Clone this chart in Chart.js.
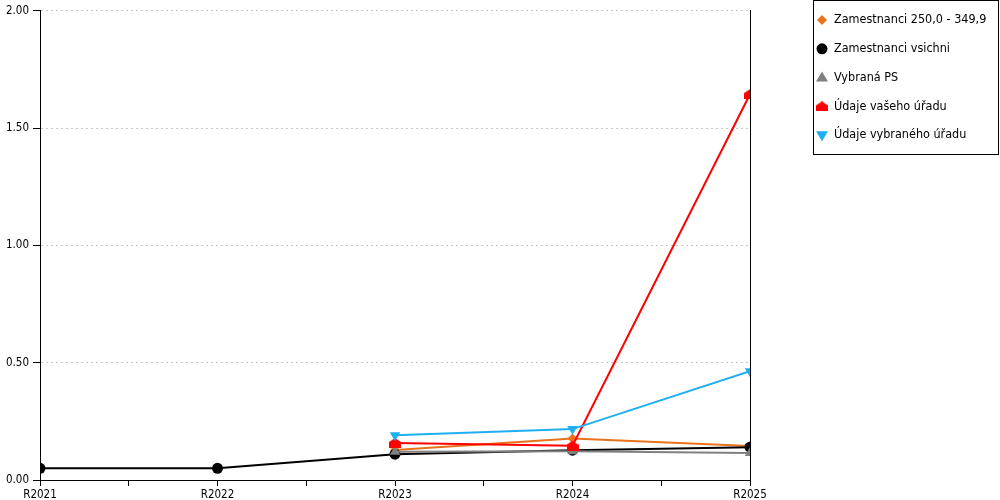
<!DOCTYPE html>
<html>
<head>
<meta charset="utf-8">
<script src="https://cdn.jsdelivr.net/npm/chart.js@4/dist/chart.umd.min.js"></script>
<style>
  html, body { margin: 0; padding: 0; background: #fff; }
  #wrap { position: relative; width: 1000px; height: 500px; }
</style>
</head>
<body>
<div id="wrap"><canvas id="c" width="1000" height="500"></canvas></div>
<script>
const categories = ['R2021', 'R2022', 'R2023', 'R2024', 'R2025'];
const yTicks = [0, 0.5, 1.0, 1.5, 2.0];
const seriesNames = ['Zamestnanci 250,0 - 349,9', 'Zamestnanci vsichni', 'Vybraná PS', 'Údaje vašeho úřadu', 'Údaje vybraného úřadu'];
const zam250 = [null, null, 0.128, 0.177, 0.145];
const zamVsichni = [0.05, 0.05, 0.11, 0.127, 0.14];
const vybranaPS = [null, null, 0.12, 0.123, 0.115];
const vasUrad = [null, null, 0.158, 0.146, 1.645];
const vybranyUrad = [null, null, 0.191, 0.217, 0.464];

const FONT = "'DejaVu Sans Condensed', 'DejaVu Sans', sans-serif";

function houseCanvas(color) {
  const c = document.createElement('canvas');
  c.width = 12; c.height = 10;
  const x = c.getContext('2d');
  x.fillStyle = color;
  x.beginPath();
  x.moveTo(0, 4); x.lineTo(6, 0); x.lineTo(12, 4); x.lineTo(12, 10); x.lineTo(0, 10);
  x.closePath(); x.fill();
  return c;
}
const house = houseCanvas('#ff0000');

function toXY(arr) { return arr.map((v, i) => ({ x: i, y: v })); }

const styles = [
  { color: '#e8731a', pointStyle: 'rectRot', radius: 5, rotation: 0 },
  { color: '#000000', pointStyle: 'circle', radius: 5.5, rotation: 0 },
  { color: '#808080', pointStyle: 'triangle', radius: 6, rotation: 0 },
  { color: '#ff0000', pointStyle: house, radius: 6, rotation: 0 },
  { color: '#1eaff0', pointStyle: 'triangle', radius: 6, rotation: 180 }
];
const values = [zam250, zamVsichni, vybranaPS, vasUrad, vybranyUrad];

const datasets = values.map((v, i) => ({
  label: seriesNames[i],
  data: toXY(v),
  borderColor: styles[i].color,
  backgroundColor: styles[i].color,
  borderWidth: 2,
  pointStyle: styles[i].pointStyle,
  pointRadius: styles[i].radius,
  pointHoverRadius: styles[i].radius,
  pointRotation: styles[i].rotation,
  pointBorderWidth: 0,
  tension: 0,
  spanGaps: false,
  order: 5 - i
}));

function drawMarker(ctx, i, x, y) {
  const s = styles[i];
  ctx.save();
  ctx.fillStyle = s.color;
  ctx.beginPath();
  if (i === 0) {
    ctx.moveTo(x, y - 5); ctx.lineTo(x + 5, y); ctx.lineTo(x, y + 5); ctx.lineTo(x - 5, y); ctx.closePath(); ctx.fill();
  } else if (i === 1) {
    ctx.arc(x, y, 5.5, 0, Math.PI * 2); ctx.fill();
  } else if (i === 2) {
    ctx.moveTo(x, y - 6); ctx.lineTo(x + 6, y + 4); ctx.lineTo(x - 6, y + 4); ctx.closePath(); ctx.fill();
  } else if (i === 3) {
    ctx.drawImage(house, x - 6, y - 5);
  } else {
    ctx.moveTo(x - 6, y - 4); ctx.lineTo(x + 6, y - 4); ctx.lineTo(x, y + 6); ctx.closePath(); ctx.fill();
  }
  ctx.restore();
}

const legendBox = {
  id: 'legendBox',
  afterDraw(chart) {
    const ctx = chart.ctx;
    ctx.save();
    ctx.strokeStyle = '#000';
    ctx.lineWidth = 1;
    ctx.strokeRect(813.5, 0.5, 185, 154);
    ctx.font = '12.5px ' + FONT;
    ctx.fillStyle = '#000';
    ctx.textBaseline = 'middle';
    ctx.textAlign = 'left';
    seriesNames.forEach((n, i) => {
      const y = 20 + i * 28.8;
      drawMarker(ctx, i, 822, y);
      ctx.fillText(n, 834, y);
    });
    ctx.restore();
  }
};

new Chart(document.getElementById('c'), {
  type: 'line',
  data: { datasets },
  options: {
    responsive: false,
    animation: false,
    events: [],
    layout: { padding: { top: 10, right: 250, left: 0, bottom: 0 } },
    plugins: { legend: { display: false }, tooltip: { enabled: false } },
    scales: {
      x: {
        type: 'linear',
        min: 0, max: categories.length - 1,
        afterBuildTicks(scale) {
          const t = [];
          for (let v = 0; v <= categories.length - 1; v += 0.5) t.push({ value: v });
          scale.ticks = t;
        },
        afterFit(scale) { scale.height = 20; },
        ticks: {
          autoSkip: false, maxRotation: 0, minRotation: 0, padding: 2,
          color: '#000',
          font: { family: FONT, size: 11.5 },
          callback: (v) => Number.isInteger(v) ? categories[v] : ''
        },
        grid: { drawOnChartArea: false, drawTicks: true, tickLength: 6, color: '#000', tickColor: '#000' },
        border: { display: true, color: '#000', width: 1 }
      },
      y: {
        type: 'linear',
        min: 0, max: 2,
        afterBuildTicks(scale) { scale.ticks = yTicks.map(v => ({ value: v })); },
        afterFit(scale) { scale.width = 40; },
        ticks: {
          color: '#000', padding: 4,
          font: { family: FONT, size: 11.5 },
          callback: (v) => Number(v).toFixed(2)
        },
        grid: { drawOnChartArea: true, tickLength: 7, color: '#c8c8c8', tickColor: '#000', lineWidth: 1 },
        border: { display: true, color: '#000', width: 1, dash: [2, 3] }
      },
      yr: {
        type: 'linear',
        position: 'right',
        min: 0, max: 2,
        afterFit(scale) { scale.width = 0; },
        ticks: { display: false },
        grid: { display: false, drawOnChartArea: false, drawTicks: false },
        border: { display: true, color: '#000', width: 1 }
      }
    }
  },
  plugins: [legendBox]
});
</script>
</body>
</html>
